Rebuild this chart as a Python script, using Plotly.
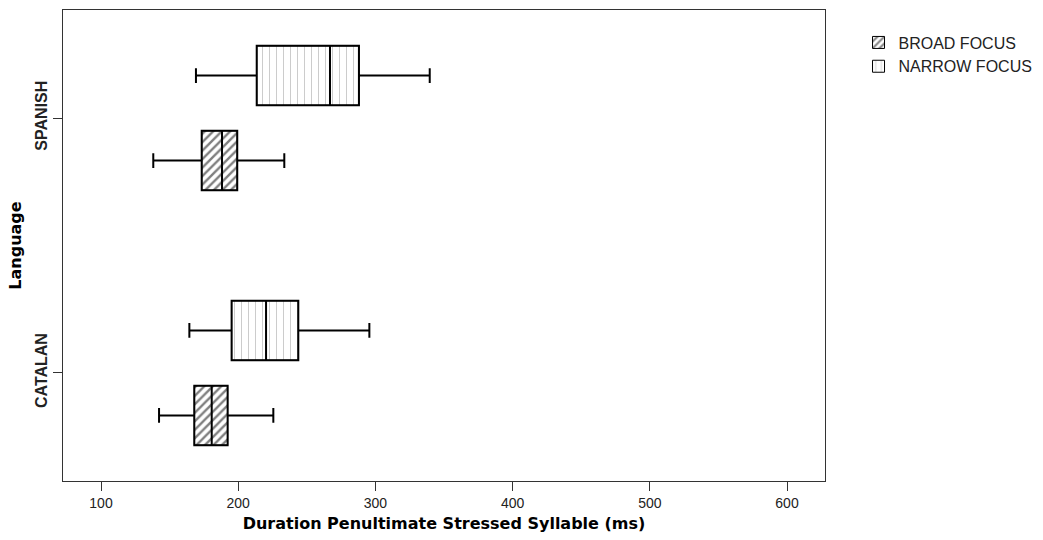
import plotly.graph_objects as go

languages = ["SPANISH", "CATALAN"]
category_order = ["CATALAN", "SPANISH"]
series_names = ["BROAD FOCUS", "NARROW FOCUS"]

broad_low = [138.1, 142.3]
broad_q1 = [173.4, 168.0]
broad_med = [188.2, 180.7]
broad_q3 = [199.3, 192.3]
broad_high = [233.6, 225.6]

narrow_low = [169.2, 164.4]
narrow_q1 = [213.5, 195.2]
narrow_med = [266.9, 220.3]
narrow_q3 = [288.0, 243.8]
narrow_high = [339.6, 295.6]

x_ticks = [100, 200, 300, 400, 500, 600]

stats = [
    (series_names[0], broad_low, broad_q1, broad_med, broad_q3, broad_high,
     dict(shape="/", fgcolor="black", bgcolor="white", size=6, solidity=0.4)),
    (series_names[1], narrow_low, narrow_q1, narrow_med, narrow_q3, narrow_high,
     dict(shape="|", fgcolor="#9a9a9a", bgcolor="white", size=7, solidity=0.15)),
]

fig = go.Figure()
for name, lo, q1, med, q3, hi, pat in stats:
    fig.add_trace(go.Bar(
        y=languages, x=[b - a for a, b in zip(q1, q3)], base=q1,
        orientation="h", name=name,
        marker=dict(color="white", line=dict(color="black", width=1), pattern=pat),
        hoverinfo="skip",
    ))
for name, lo, q1, med, q3, hi, pat in stats:
    fig.add_trace(go.Box(
        y=languages, q1=q1, median=med, q3=q3, lowerfence=lo, upperfence=hi,
        orientation="h", name=name, showlegend=False,
        fillcolor="rgba(0,0,0,0)", line=dict(color="black", width=2),
        whiskerwidth=0.25, boxpoints=False, hoverinfo="skip",
    ))

fig.update_layout(
    width=1043, height=540,
    margin=dict(l=63, r=218, t=10, b=59, autoexpand=False),
    plot_bgcolor="white", paper_bgcolor="white",
    barmode="group", bargap=0.333, bargroupgap=0.3,
    boxmode="group", boxgap=0.333, boxgroupgap=0.3,
    legend=dict(x=1.044, y=0.967, xanchor="left", yanchor="top",
                font=dict(family="Liberation Sans", size=16, color="#222"),
                bgcolor="rgba(0,0,0,0)", traceorder="normal"),
    xaxis=dict(
        range=[72.3, 627.7], tickvals=x_ticks, ticks="outside", ticklen=9,
        tickcolor="#333", showgrid=False, zeroline=False, showline=True,
        mirror=True, linecolor="#333", linewidth=1,
        tickfont=dict(family="Liberation Sans", size=14, color="#222"),
        title=dict(text="Duration Penultimate Stressed Syllable (ms)",
                   font=dict(family="DejaVu Sans", size=16, color="black", weight="bold"),
                   standoff=8),
    ),
    yaxis=dict(
        type="category", categoryorder="array", categoryarray=category_order,
        range=[-0.424, 1.424], tickangle=-90, ticks="outside", ticklen=9,
        tickcolor="#333", showgrid=False, zeroline=False, showline=True,
        mirror=True, linecolor="#333", linewidth=1,
        tickfont=dict(family="Liberation Sans", size=16, color="#222", weight="bold"),
        title=dict(text="Language",
                   font=dict(family="DejaVu Sans", size=16, color="black", weight="bold"),
                   standoff=6),
    ),
)

fig.write_html("out.html")
